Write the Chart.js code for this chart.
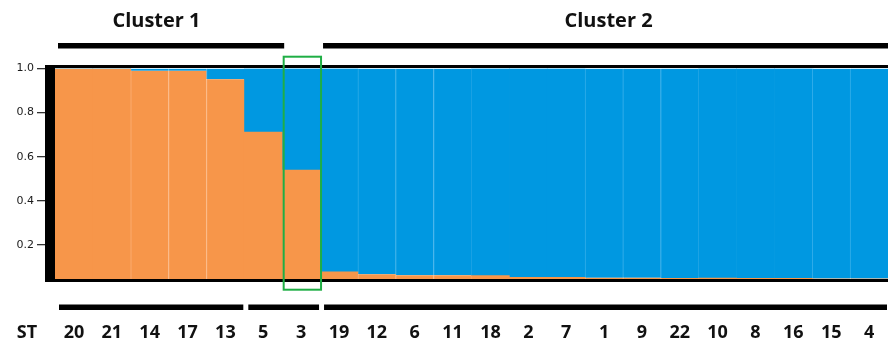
<!DOCTYPE html>
<html>
<head>
<meta charset="utf-8">
<script src="https://cdn.jsdelivr.net/npm/chart.js@4.4.1/dist/chart.umd.min.js"></script>
<style>
  body { margin: 0; background: #fff; }
  canvas { display: block; }
</style>
</head>
<body>
<canvas id="structurePlot" width="888" height="344"></canvas>
<script>
// sequence types, in plot order
const stLabels = ['20', '21', '14', '17', '13', '5', '3', '19', '12', '6', '11',
  '18', '2', '7', '1', '9', '22', '10', '8', '16', '15', '4'];

// membership coefficients (orange = cluster 1, blue = cluster 2)
const cluster1Share = [0.998, 0.998, 0.99, 0.99, 0.951, 0.712, 0.54, 0.078, 0.067, 0.063, 0.063,
  0.061, 0.054, 0.054, 0.052, 0.052, 0.051, 0.050, 0.049, 0.049, 0.048, 0.048];
const cluster2Share = [0.002, 0.002, 0.01, 0.01, 0.049, 0.288, 0.46, 0.922, 0.933, 0.937, 0.937,
  0.939, 0.946, 0.946, 0.948, 0.948, 0.949, 0.950, 0.951, 0.951, 0.952, 0.952];

const yTicks = [0.2, 0.4, 0.6, 0.8, 1.0];

// groups by bar index
const clusterNames = ['Cluster 1', 'Cluster 2'];
const clusterSpans = [[0, 5], [7, 21]];
const clusterLabelAt = [2.18, 14.12];
const lowerSpans = [[0, 4], [5, 6], [7, 21]];
const boxedBar = 6;

// faint seams between some neighbouring bars
const seams = [2, 3, 4, 8, 9, 10, 14, 15, 16, 20, 21];

const labelFont = '"Open Sans", sans-serif';

const decorations = {
  id: 'decorations',
  afterDatasetsDraw(chart) {
    const ctx = chart.ctx;
    const a = chart.chartArea;
    ctx.save();
    ctx.fillStyle = '#000';
    ctx.fillRect(45, a.top - 3.5, chart.width - 45, 3);
    ctx.fillRect(45, a.bottom, chart.width - 45, 3);
    ctx.fillRect(45, a.top - 3.5, 10, a.bottom - a.top + 6.5);
    ctx.restore();
  },
  afterDraw(chart) {
    const ctx = chart.ctx;
    const a = chart.chartArea;
    const xs = chart.scales.x;
    const w = xs.getPixelForValue(1) - xs.getPixelForValue(0);
    const edge = i => xs.getPixelForValue(i) - w / 2;
    ctx.save();
    ctx.fillStyle = '#000';

    // cluster bars and names above the plot
    clusterSpans.forEach(s => {
      const x1 = edge(s[0]) + 3;
      const x2 = edge(s[1] + 1) + 2;
      ctx.fillRect(x1, 43, x2 - x1, 5.5);
    });
    ctx.font = 'bold 20px ' + labelFont;
    ctx.textAlign = 'center';
    ctx.textBaseline = 'alphabetic';
    ctx.fillStyle = '#111';
    clusterNames.forEach((name, k) => {
      ctx.fillText(name, xs.getPixelForValue(clusterLabelAt[k]), 27);
    });

    // bars below the plot
    ctx.fillStyle = '#000';
    lowerSpans.forEach(s => {
      const x1 = edge(s[0]) + 4;
      const x2 = edge(s[1] + 1) - 1;
      ctx.fillRect(x1, 304.5, x2 - x1, 5.5);
    });

    // ST axis name
    ctx.fillStyle = '#111';
    ctx.font = 'bold 18px ' + labelFont;
    ctx.textBaseline = 'middle';
    ctx.fillText('ST', 27, 333);

    // green box around the admixed ST
    ctx.strokeStyle = '#1fae45';
    ctx.lineWidth = 2;
    const bx = edge(boxedBar) + 1.5;
    ctx.strokeRect(bx, a.top - 11.8, w - 0.5, a.bottom - a.top + 22.5);
    ctx.restore();
  }
};

const seamWidth = ctx => (seams.includes(ctx.dataIndex) ? { left: 1, right: 0, top: 0, bottom: 0 } : 0);

new Chart(document.getElementById('structurePlot'), {
  type: 'bar',
  data: {
    labels: stLabels,
    datasets: [
      {
        label: 'Cluster 1',
        data: cluster1Share,
        backgroundColor: '#f7964a',
        borderColor: '#fbb27a',
        borderWidth: seamWidth,
        borderSkipped: false
      },
      {
        label: 'Cluster 2',
        data: cluster2Share,
        backgroundColor: '#0098e1',
        borderColor: '#31ade9',
        borderWidth: seamWidth,
        borderSkipped: false
      }
    ]
  },
  options: {
    responsive: false,
    animation: false,
    devicePixelRatio: 1,
    layout: { padding: { top: 68.5, right: 0, bottom: 0, left: 0 } },
    datasets: { bar: { barPercentage: 1, categoryPercentage: 1 } },
    plugins: {
      legend: { display: false },
      tooltip: { enabled: false }
    },
    scales: {
      x: {
        stacked: true,
        grid: { display: false, drawTicks: false },
        border: { display: false },
        ticks: {
          padding: 43,
          color: '#111',
          font: { family: labelFont, size: 18, weight: 'bold' },
          maxRotation: 0,
          autoSkip: false
        },
        afterFit: scale => {
          scale.height = 65;
          scale.paddingLeft = 0;
          scale.paddingRight = 0;
        }
      },
      y: {
        stacked: true,
        min: 0.046,
        max: 1,
        grid: { drawOnChartArea: false, drawTicks: true, tickLength: 18, color: '#333', lineWidth: 1.3 },
        border: { display: false },
        afterBuildTicks: scale => { scale.ticks = yTicks.map(v => ({ value: v })); },
        ticks: {
          padding: 3,
          color: '#1a1a1a',
          font: { family: '"DejaVu Sans", sans-serif', size: 11 },
          callback: v => v.toFixed(1)
        },
        afterFit: scale => {
          scale.width = 55;
          scale.paddingTop = 0;
          scale.paddingBottom = 0;
        }
      }
    }
  },
  plugins: [decorations]
});
</script>
</body>
</html>
